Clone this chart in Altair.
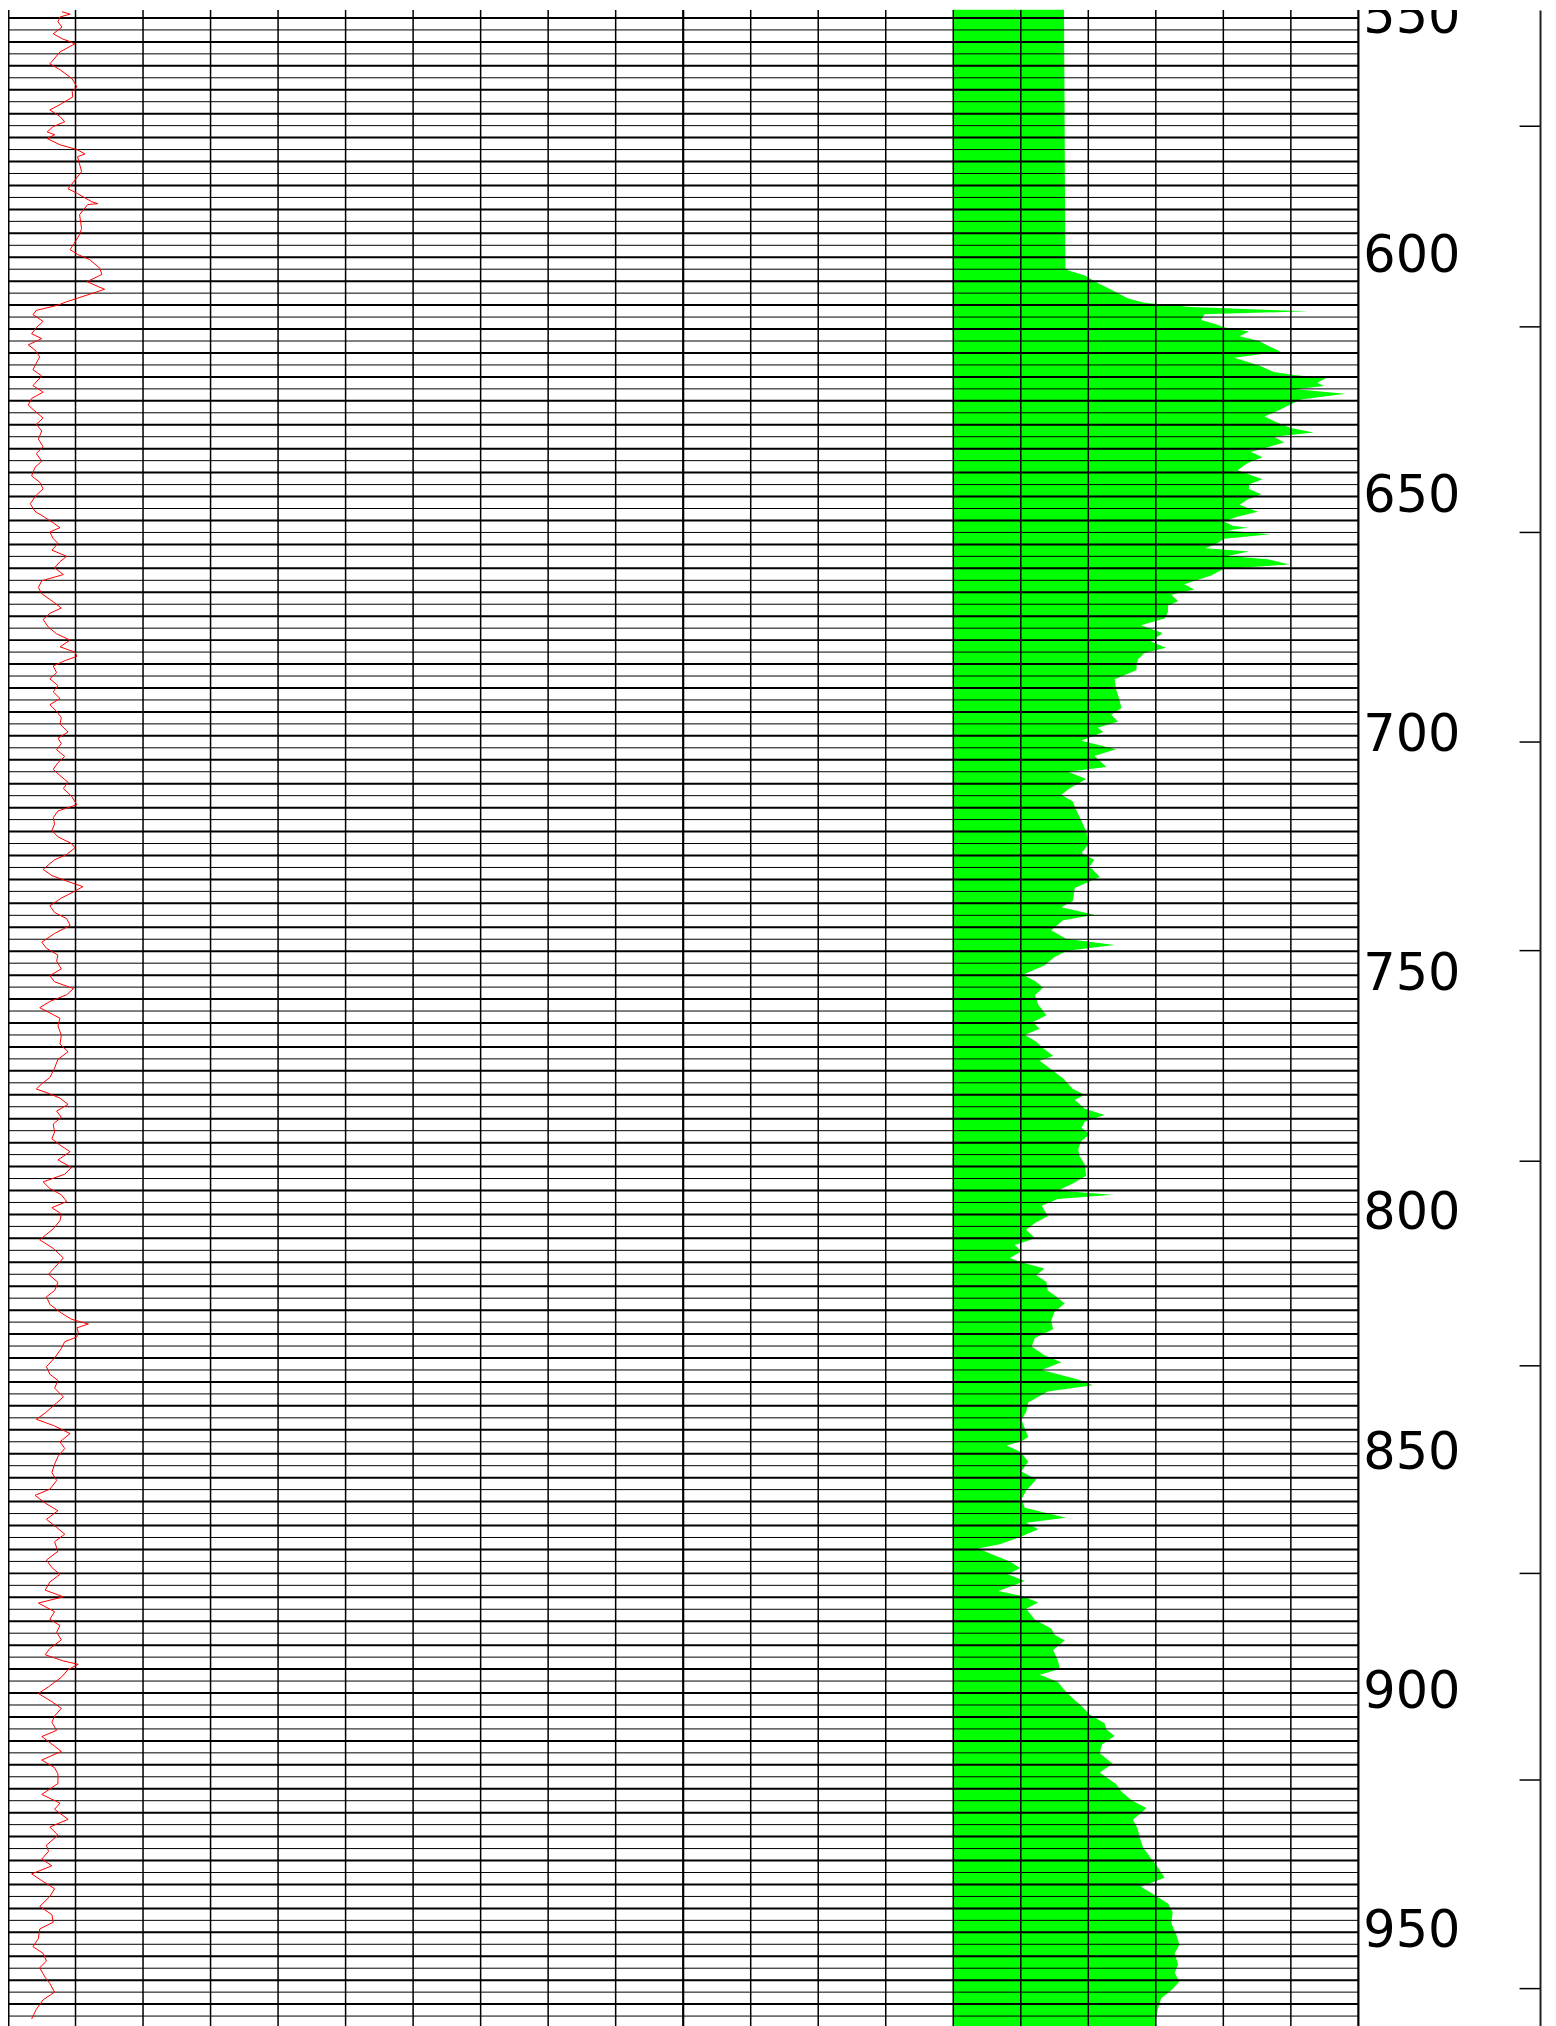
import altair as alt
import pandas as pd

# ---- depth track data (depth in m) ----
red_depth = [548.7, 549.2, 549.8, 550.8, 551.9, 553.3, 554.4, 554.8, 555.4, 557.1, 559.6, 560.8, 562.7, 564.4,
             565.4, 566.5, 568.1, 569.2, 570.6, 571.7, 572.7, 573.8, 574.4, 575.2, 576.5, 577.5, 578.4, 579.0,
             582.1, 585.7, 586.7, 588.4, 588.8, 589.0, 591.1, 594.0, 595.3, 598.4, 599.4, 600.5, 602.3, 603.6,
             605.1, 606.7, 608.6, 609.3, 610.0, 611.1, 612.0, 613.4, 614.7, 616.0, 617.0, 618.3, 619.4, 620.8,
             622.1, 623.5, 624.8, 626.8, 628.2, 629.5, 630.9, 631.8, 633.6, 634.9, 636.3, 638.0, 639.6, 641.0,
             642.6, 643.9, 645.7, 647.0, 648.4, 649.7, 651.5, 653.1, 654.4, 655.5, 656.5, 657.4, 658.8, 659.8,
             661.2, 662.5, 663.6, 664.9, 666.3, 667.6, 669.0, 670.3, 672.0, 673.3, 674.4, 675.7, 677.3, 678.7,
             680.0, 681.4, 682.5, 683.4, 684.3, 685.4, 686.8, 688.1, 689.5, 690.8, 692.2, 693.5, 694.9, 696.2,
             697.5, 699.2, 700.5, 701.6, 702.9, 704.3, 705.6, 707.0, 708.3, 709.7, 711.0, 712.6, 714.4, 715.7,
             717.1, 718.4, 719.8, 721.1, 722.5, 723.4, 724.8, 725.9, 727.9, 729.2, 730.6, 731.5, 732.6, 733.9,
             735.5, 736.9, 738.2, 739.6, 741.3, 743.1, 744.4, 745.8, 747.1, 748.7, 750.1, 751.4, 752.8, 754.1,
             755.5, 756.8, 757.9, 759.0, 760.6, 762.6, 764.4, 766.0, 767.6, 769.4, 771.4, 772.7, 773.8, 774.7,
             775.7, 777.0, 778.4, 779.7, 781.1, 782.8, 784.2, 785.5, 786.9, 788.6, 790.2, 791.6, 793.2, 794.6,
             795.9, 797.3, 798.6, 799.9, 801.3, 803.0, 805.3, 807.1, 809.1, 811.1, 812.5, 814.2, 815.9, 817.2,
             818.8, 820.6, 821.9, 822.9, 823.7, 824.6, 825.6, 826.6, 828.0, 830.0, 831.8, 833.4, 834.7, 836.3,
             838.1, 839.4, 841.5, 842.8, 844.2, 845.8, 847.5, 848.9, 850.6, 852.2, 853.9, 855.6, 857.4, 858.7,
             860.3, 861.9, 863.7, 865.4, 866.8, 868.4, 870.4, 872.2, 873.8, 875.2, 876.8, 878.5, 879.9, 881.2,
             883.0, 884.6, 885.9, 887.3, 888.9, 890.7, 892.0, 893.3, 894.0, 895.1, 896.7, 898.7, 900.1, 901.8,
             903.2, 904.8, 906.1, 907.8, 909.1, 910.9, 912.2, 914.0, 915.6, 916.9, 918.9, 921.2, 923.0, 924.3,
             926.4, 928.0, 929.7, 931.8, 933.1, 934.7, 936.1, 937.8, 939.2, 940.9, 942.5, 944.6, 946.3, 947.9,
             949.3, 951.3, 953.0, 954.4, 956.0, 957.4, 959.4, 960.7, 962.5, 964.1, 966.1, 968.1]
red_value = [8.0, 9.2, 7.7, 7.4, 8.0, 6.7, 8.1, 8.9, 9.9, 7.7, 6.2, 7.7, 9.5, 10.2,
             9.5, 9.6, 7.7, 6.2, 7.7, 8.4, 6.7, 5.8, 6.9, 5.8, 7.7, 10.2, 11.4, 10.3,
             10.9, 8.9, 10.3, 12.4, 13.3, 11.8, 10.6, 10.9, 10.6, 9.2, 10.3, 12.1, 13.6, 13.9,
             11.7, 14.3, 10.2, 8.7, 7.4, 4.2, 3.7, 5.2, 4.2, 3.5, 5.0, 3.0, 4.0, 4.7,
             4.2, 3.7, 5.0, 3.7, 5.2, 3.5, 3.0, 3.7, 5.2, 4.2, 5.0, 4.5, 5.2, 4.2,
             5.0, 4.0, 3.5, 4.7, 5.2, 4.2, 3.3, 4.0, 5.5, 6.7, 7.7, 6.2, 6.7, 7.4,
             6.5, 8.7, 7.7, 6.9, 8.2, 5.0, 4.5, 5.0, 6.7, 7.9, 6.2, 5.2, 6.0, 7.2,
             9.2, 7.7, 9.9, 10.2, 8.4, 6.7, 7.2, 6.2, 7.4, 6.7, 7.7, 6.2, 7.2, 7.9,
             7.7, 8.9, 7.4, 7.9, 7.2, 8.4, 7.4, 6.7, 7.7, 8.9, 8.2, 9.4, 10.2, 7.4,
             6.7, 6.9, 6.5, 7.4, 9.4, 9.9, 8.7, 6.9, 5.2, 6.5, 9.2, 11.1, 9.7, 7.9,
             6.2, 6.9, 8.7, 9.2, 6.9, 5.0, 5.7, 7.4, 7.2, 7.9, 6.2, 6.9, 9.7, 8.7,
             6.2, 4.7, 6.2, 7.7, 7.4, 7.9, 7.7, 8.9, 7.4, 6.9, 6.2, 5.0, 4.2, 6.0,
             7.7, 8.9, 7.2, 7.9, 6.7, 6.9, 6.5, 7.7, 9.2, 7.4, 9.4, 8.4, 5.2, 6.2,
             7.9, 8.7, 6.5, 7.9, 7.7, 6.7, 4.7, 6.7, 8.2, 6.9, 6.0, 7.4, 6.9, 5.7,
             6.2, 7.9, 9.4, 11.9, 10.2, 10.4, 10.2, 8.4, 7.9, 6.9, 5.7, 6.2, 7.4, 6.9,
             8.2, 7.2, 5.5, 4.2, 6.9, 9.2, 7.7, 8.4, 7.4, 6.9, 6.5, 7.2, 6.2, 4.0,
             5.5, 7.4, 5.7, 7.2, 8.4, 6.9, 7.4, 5.7, 6.5, 7.7, 6.2, 5.5, 8.2, 4.5,
             6.9, 6.2, 7.7, 7.2, 7.9, 6.2, 5.5, 8.2, 10.4, 8.9, 7.9, 6.0, 4.5, 6.5,
             7.9, 6.9, 6.5, 7.2, 5.0, 6.7, 7.9, 5.0, 6.9, 7.4, 7.4, 5.0, 7.7, 6.9,
             8.9, 6.2, 7.4, 5.7, 6.0, 5.0, 6.5, 3.5, 5.0, 6.9, 6.2, 4.7, 6.5, 6.7,
             4.7, 4.5, 3.7, 5.2, 5.7, 4.7, 5.5, 6.2, 6.9, 5.2, 4.2, 3.5]

green_depth = [548.3, 573.8, 602.3, 602.7, 603.8, 605.4, 606.8, 608.6, 609.5, 610.4, 611.3, 611.9, 613.1, 614.0,
               614.6, 615.5, 616.5, 617.5, 618.5, 619.7, 621.0, 622.6, 624.0, 624.6, 625.3, 626.2, 626.9, 627.6,
               628.5, 629.7, 630.7, 632.1, 633.3, 634.4, 635.7, 636.6, 637.5, 638.7, 640.7, 641.8, 643.0, 644.5,
               646.4, 647.5, 648.4, 649.5, 650.6, 651.7, 653.2, 654.2, 655.2, 656.1, 656.5, 657.1, 657.9, 658.8,
               659.7, 660.8, 661.5, 662.4, 663.1, 664.2, 665.1, 666.5, 668.3, 669.4, 670.5, 671.9, 672.8, 674.1,
               675.5, 676.9, 678.5, 680.3, 681.6, 682.7, 684.1, 686.3, 688.2, 690.2, 692.4, 694.2, 695.6, 697.0,
               698.3, 699.2, 701.0, 702.8, 704.2, 706.5, 707.5, 709.0, 711.0, 712.3, 713.7, 715.5, 717.8, 720.0,
               722.7, 724.5, 725.9, 727.3, 729.5, 731.8, 734.5, 735.8, 737.4, 738.6, 740.6, 742.4, 743.7, 744.9,
               746.2, 748.0, 749.9, 751.2, 752.6, 754.2, 756.2, 758.4, 759.8, 761.2, 762.5, 763.9, 765.2, 766.9,
               767.9, 769.7, 771.6, 773.8, 775.0, 776.1, 777.9, 779.2, 780.6, 781.9, 783.3, 784.6, 786.4, 787.8,
               789.6, 791.9, 793.7, 795.0, 795.9, 796.8, 798.2, 800.4, 801.8, 803.2, 805.0, 806.4, 807.7, 809.1,
               810.0, 811.3, 812.7, 814.1, 815.9, 817.2, 818.6, 820.4, 822.2, 824.0, 825.8, 827.6, 829.4, 830.9,
               832.5, 834.5, 835.7, 837.0, 839.3, 841.3, 842.9, 846.5, 847.4, 848.3, 849.6, 851.6, 853.7, 855.4,
               857.7, 859.5, 861.3, 863.4, 864.4, 865.8, 867.4, 868.9, 869.8, 871.0, 872.5, 873.9, 875.2, 876.6,
               878.7, 879.7, 881.1, 882.4, 884.7, 886.5, 887.8, 889.0, 891.0, 893.2, 895.0, 896.2, 897.7, 899.1,
               900.9, 902.7, 904.5, 906.3, 907.6, 909.0, 910.8, 912.6, 914.8, 916.6, 918.0, 919.0, 920.6, 922.4,
               924.0, 925.1, 926.5, 928.3, 930.1, 932.3, 934.6, 936.4, 938.6, 940.5, 942.2, 944.0, 945.8, 948.1,
               950.4, 952.6, 954.4, 956.7, 958.5, 960.3, 962.1, 963.8, 966.1, 968.3, 970.0]
green_value = [56.4, 56.5, 56.6, 57.0, 59.5, 61.4, 63.4, 65.9, 68.3, 75.2, 92.5, 77.2, 76.7, 78.9,
               80.1, 83.8, 82.4, 85.3, 86.6, 88.5, 81.6, 85.3, 87.5, 90.5, 95.2, 93.9, 94.9, 90.7,
               98.1, 91.5, 90.0, 88.0, 86.1, 87.8, 90.0, 93.4, 87.5, 89.0, 84.1, 85.8, 83.6, 82.1,
               85.8, 83.8, 83.8, 85.6, 83.6, 82.4, 85.1, 82.1, 80.1, 81.4, 83.6, 80.6, 87.0, 80.1,
               79.2, 77.4, 83.8, 80.6, 86.6, 89.8, 80.1, 78.2, 74.2, 75.7, 72.3, 73.3, 71.8, 71.8,
               71.3, 67.8, 71.0, 69.3, 71.5, 68.3, 67.3, 67.1, 63.9, 64.1, 64.6, 64.9, 63.4, 64.4,
               61.4, 62.2, 59.0, 64.1, 60.9, 62.7, 57.0, 59.7, 57.2, 56.0, 57.7, 58.2, 59.0, 59.7,
               60.0, 59.0, 60.9, 60.2, 61.7, 58.0, 57.7, 56.0, 60.9, 56.2, 54.5, 56.7, 63.9, 56.9,
               55.0, 53.5, 50.3, 52.1, 53.3, 52.1, 52.6, 53.8, 51.8, 52.8, 50.6, 52.3, 53.3, 54.8,
               52.8, 54.5, 56.3, 57.7, 59.5, 58.0, 59.5, 62.4, 59.5, 59.0, 60.2, 59.0, 58.5, 58.7,
               59.5, 59.7, 57.5, 55.5, 63.6, 55.5, 53.1, 54.0, 52.1, 50.8, 52.1, 49.1, 50.1, 48.4,
               50.1, 53.5, 52.3, 53.8, 54.0, 55.3, 56.5, 55.0, 54.5, 54.8, 52.1, 51.6, 53.5, 56.0,
               53.1, 58.5, 60.7, 54.0, 51.1, 50.8, 50.1, 51.1, 50.1, 47.9, 49.9, 51.1, 50.1, 52.3,
               50.8, 50.1, 50.6, 56.7, 50.8, 52.6, 49.9, 46.9, 43.7, 45.7, 48.4, 49.9, 48.1, 50.6,
               46.7, 50.1, 52.6, 50.8, 52.1, 54.5, 55.0, 56.5, 54.8, 55.5, 55.8, 52.8, 55.5, 56.3,
               57.5, 59.0, 60.2, 62.4, 62.7, 63.9, 62.0, 61.7, 63.6, 61.7, 63.1, 64.1, 64.9, 66.4,
               68.6, 67.8, 66.6, 67.3, 67.6, 68.1, 69.3, 70.3, 71.3, 67.8, 69.8, 71.8, 72.5, 72.3,
               73.0, 73.5, 72.8, 73.3, 72.8, 73.5, 72.3, 70.8, 70.3, 70.0, 70.0]
green_baseline = 40

marker_depths = [572.6, 614.4, 657.3, 701.1, 744.8, 788.7, 831.5, 874.9, 918.1, 961.7]
depth_labels = [550, 600, 650, 700, 750, 800, 850, 900, 950]
depth_top, depth_bottom = 548.33, 970.0

thick_depths = [550 + 5 * i for i in range(85)]
thin_depths = [552.5 + 5 * i for i in range(84)]
thin_divs = [d for d in range(0, 201, 10) if d not in (0, 100, 200)]
track_edges = [0, 100, 200]
track_edge_widths = [3.0, 2.2, 2.2]

red_df = pd.DataFrame({"depth": red_depth, "value": red_value})
green_df = pd.DataFrame({"depth": green_depth, "value": green_value})
label_df = pd.DataFrame({"depth": depth_labels})
thin_df = pd.DataFrame({"depth": thin_depths, "x0": 0, "x1": 200})
thick_df = pd.DataFrame({"depth": thick_depths, "x0": 0, "x1": 200})
label_df["xpos"] = 200

# tracks occupy the left part of the plot; the depth labels and the marker line sit to the right
xs = alt.Scale(domain=[0, 200], range=[0, 1353], nice=False, zero=False)
ys = alt.Scale(domain=[depth_top, depth_bottom], reverse=True, nice=False, zero=False)

green = alt.Chart(green_df).transform_calculate(
    gx="100 + datum.value", base=str(100 + green_baseline)
).mark_area(orient="horizontal", color="#00ff00", interpolate="linear").encode(
    y=alt.Y("depth:Q", scale=ys, axis=None),
    x=alt.X("gx:Q", scale=xs, axis=None),
    x2="base:Q",
)

vthin = alt.Chart(pd.DataFrame({"div": thin_divs})).mark_rule(color="#000000", strokeWidth=1.5).encode(
    x=alt.X("div:Q", scale=xs, axis=None)
)
vthick = alt.Chart(pd.DataFrame({"div": track_edges, "w": track_edge_widths})).mark_rule(color="#000000").encode(
    x=alt.X("div:Q", scale=xs, axis=None),
    strokeWidth=alt.StrokeWidth("w:Q", scale=None, legend=None),
)

hthin = alt.Chart(thin_df).mark_rule(color="#000000", strokeWidth=1.0).encode(
    y=alt.Y("depth:Q", scale=ys,
            axis=alt.Axis(orient="left", offset=-1535, values=marker_depths, labels=False, ticks=True,
                          tickSize=21, tickWidth=1.5, tickColor="#000000", domain=True, domainWidth=2,
                          domainColor="#222222", grid=False, title=None)),
    x=alt.X("x0:Q", scale=xs, axis=None),
    x2="x1:Q",
)
hthick = alt.Chart(thick_df).mark_rule(color="#000000", strokeWidth=2.0).encode(
    y=alt.Y("depth:Q", scale=ys, axis=None),
    x=alt.X("x0:Q", scale=xs, axis=None),
    x2="x1:Q",
)

labels = alt.Chart(label_df).mark_text(
    align="left", baseline="middle", fontSize=51, font="DejaVu Sans", color="#000000", dx=5, clip=True
).encode(
    y=alt.Y("depth:Q", scale=ys, axis=None),
    x=alt.X("xpos:Q", scale=xs, axis=None),
    text=alt.Text("depth:Q", format="d"),
)

red = alt.Chart(red_df).mark_line(color="#ff0000", strokeWidth=1.0).encode(
    y=alt.Y("depth:Q", scale=ys, axis=None),
    x=alt.X("value:Q", scale=xs, axis=None),
    order=alt.Order("depth:Q"),
)

chart = alt.layer(green, vthin, hthin, hthick, vthick, red, labels).resolve_axis(y="independent").properties(
    width=1535, height=2022,
    autosize=alt.AutoSizeParams(type="none"),
    padding={"left": 0, "top": 0, "right": 8, "bottom": 0},
    background="white",
).configure_view(stroke="transparent")

chart.save("out.html", embed_options={"renderer": "svg", "actions": False})
